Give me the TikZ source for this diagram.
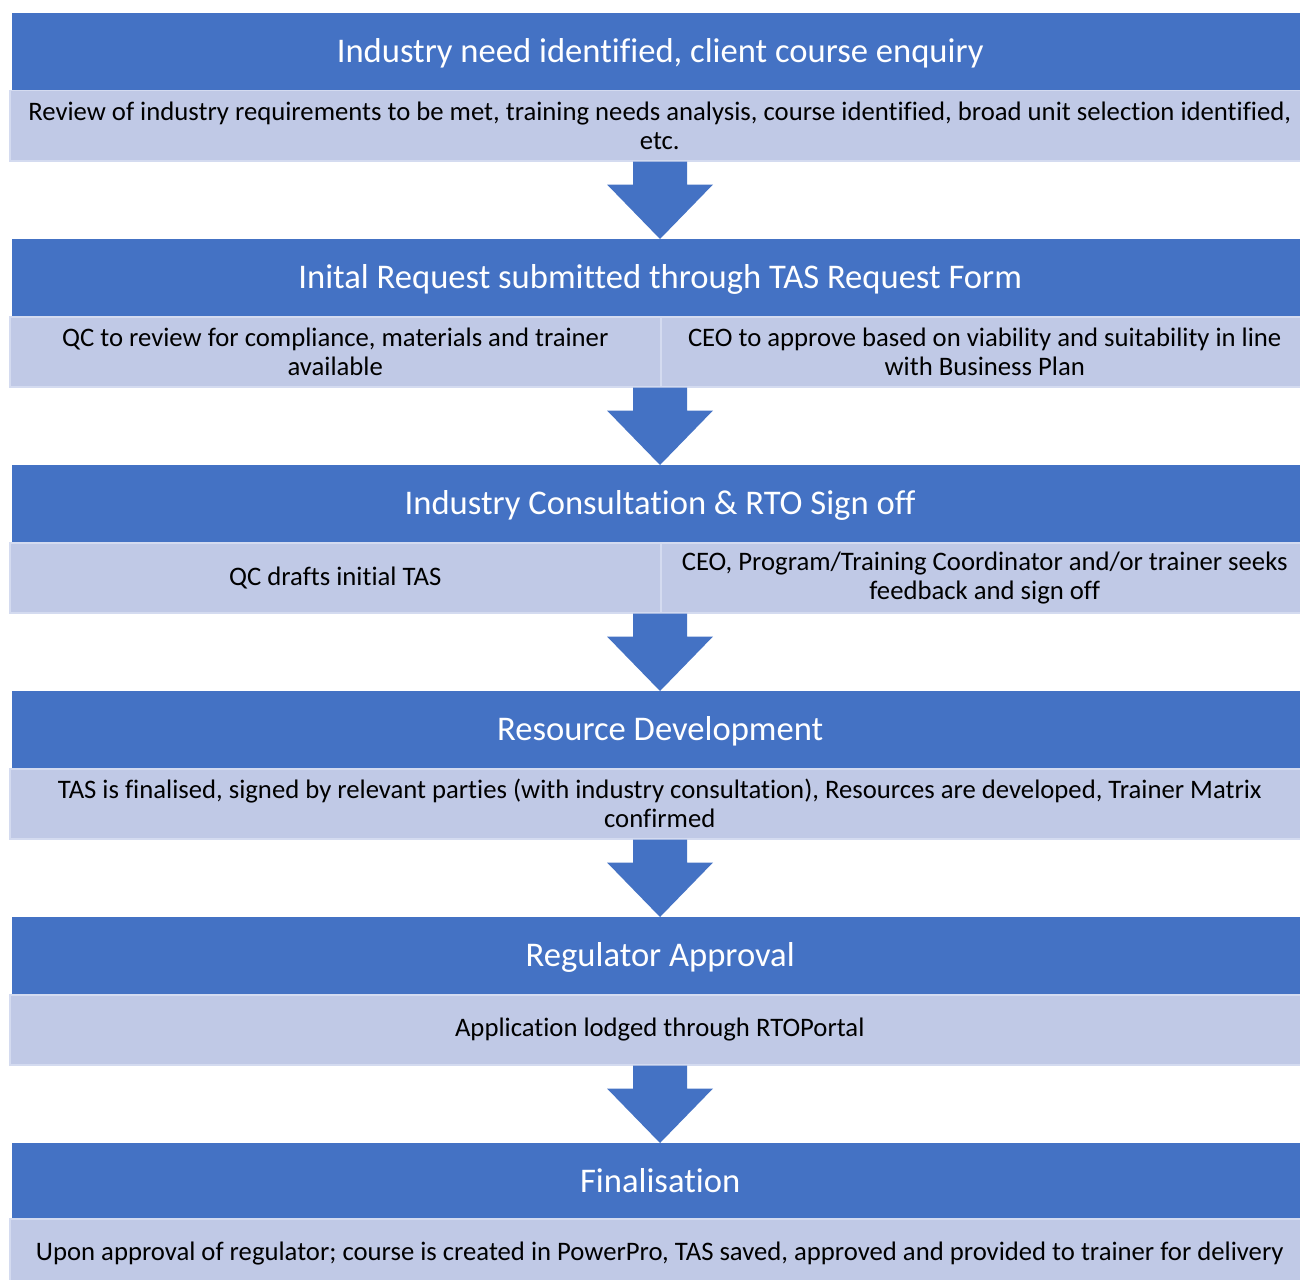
\documentclass[tikz,border=0pt]{standalone}
\usepackage{fontspec}
\setmainfont{Carlito}[Ligatures={NoCommon}]
\usetikzlibrary{calc}
\definecolor{hdrblue}{RGB}{68,114,196}
\definecolor{subfill}{RGB}{192,201,230}
\definecolor{subline}{RGB}{212,219,240}
\tikzset{
  hdr/.style={anchor=north west, fill=hdrblue, text=white, inner sep=0pt,
    minimum width=1296pt, minimum height=77pt, align=center,
    text height=25pt, text depth=4pt,
    font=\fontsize{34.6}{40}\selectfont},
  subbox/.style={anchor=north west, fill=subfill, draw=subline, line width=1.5pt,
    inner sep=0pt, minimum height=70pt, align=center, text=black,
    font=\fontsize{26.7}{29}\selectfont},
  full/.style={subbox, minimum width=1300pt},
  half/.style={subbox, minimum width=651pt},
  halfr/.style={subbox, minimum width=648pt},
  arrowc/.style={fill=hdrblue}
}
\newcommand\blockarrow[2]{%
  \fill[arrowc] ($(#1.south west)+(624,0)$) -- ++(54,0) -- ++(0,23) -- ++(26,0)
    -- ($(#2.north west)+(648,0)$) -- ($(#1.south west)+(598,23)$) -- ++(26,0) -- cycle;}
\begin{document}
\begin{tikzpicture}[x=1pt,y=-1pt]
\useasboundingbox (0,0) rectangle (1300,1279);
\clip (0,0) rectangle (1300,1279);
\fill[white] (0,0) rectangle (1300,1279);
% block 1
\node[hdr] (h1) at (12,13) {Industry need identified, client course enquiry};
\node[full] (s1) at (9,90) {Review of industry requirements to be met, training needs analysis, course identified, broad unit selection identified,\\etc.};
% block 2
\node[hdr] (h2) at (12,239) {Inital Request submitted through TAS Request Form};
\node[half] (s2) at (9,316) {QC to review for compliance, materials and trainer\\available};
\node[halfr] (s2r) at (660,316) {CEO to approve based on viability and suitability in line\\with Business Plan};
% block 3
\node[hdr] (h3) at (12,465) {Industry Consultation \& RTO Sign off};
\node[half] (s3) at (9,542) {QC drafts initial TAS};
\node[halfr] (s3r) at (660,542) {CEO, Program/Training Coordinator and/or trainer seeks\\feedback and sign off};
% block 4
\node[hdr] (h4) at (12,691) {Resource Development};
\node[full] (s4) at (9,768) {TAS is finalised, signed by relevant parties (with industry consultation), Resources are developed, Trainer Matrix\\confirmed};
% block 5
\node[hdr] (h5) at (12,917) {Regulator Approval};
\node[full] (s5) at (9,994) {Application lodged through RTOPortal};
% block 6
\node[hdr] (h6) at (12,1143) {Finalisation};
\node[full] (s6) at (9,1218) {Upon approval of regulator; course is created in PowerPro, TAS saved, approved and provided to trainer for delivery};
% arrows
\blockarrow{s1}{h2}
\blockarrow{s2}{h3}
\blockarrow{s3}{h4}
\blockarrow{s4}{h5}
\blockarrow{s5}{h6}
\end{tikzpicture}
\end{document}
